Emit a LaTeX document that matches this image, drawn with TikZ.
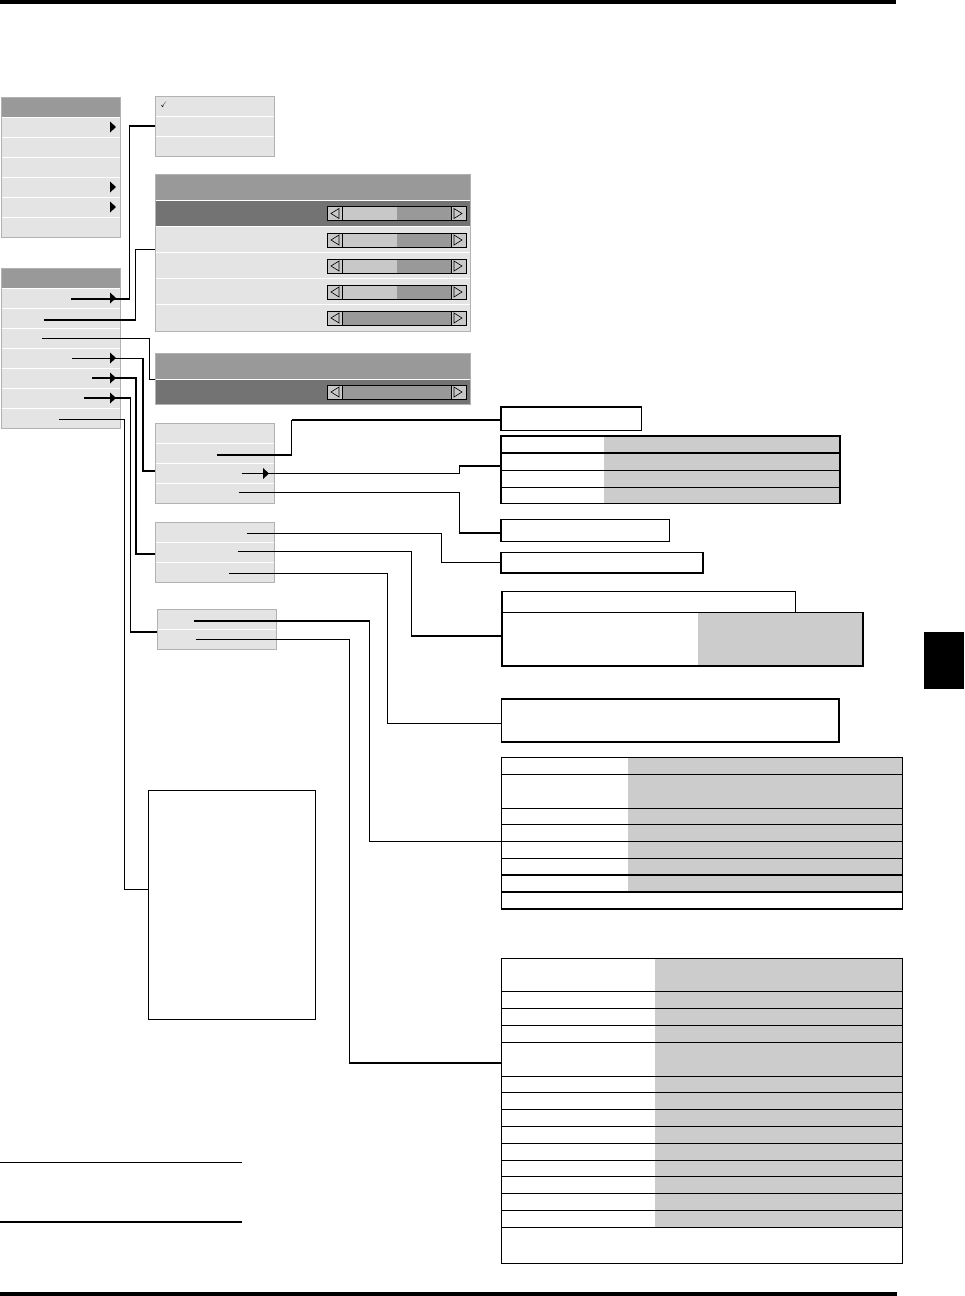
\documentclass[tikz,border=0pt]{standalone}
\usepackage{amsmath, amssymb}
\usepackage{xcolor}
\usepackage{tikz}
\definecolor{menufill}{RGB}{228,228,228}
\definecolor{menuedge}{RGB}{178,178,178}
\definecolor{headgray}{RGB}{153,153,153}
\definecolor{selgray}{RGB}{115,115,115}
\definecolor{cellgray}{RGB}{204,204,204}
\definecolor{tracklight}{RGB}{200,200,200}

\newcommand{\slidebar}[2]{%
  \fill[tracklight] (327,#1-7) rectangle (466,#1+7);
  \fill[headgray] (#2,#1-7) rectangle (451,#1+7);
  \draw[line width=1pt] (327,#1-7) rectangle (466,#1+7);
  \draw[line width=0.8pt] (342,#1-7) -- (342,#1+7) (451,#1-7) -- (451,#1+7);
  \draw[line width=0.6pt] (339,#1-5) -- (331,#1) -- (339,#1+5) -- cycle;
  \draw[line width=0.6pt] (454,#1-5) -- (462,#1) -- (454,#1+5) -- cycle;
}
\newcommand{\subtri}[2]{\fill (#1,#2-5.5) -- (#1+6,#2) -- (#1,#2+5.5) -- cycle;}

\begin{document}
\begin{tikzpicture}[x=1pt, y=-1pt,
  menupanel/.style={draw=menuedge, fill=menufill, line width=1pt, inner sep=0pt, outer sep=0pt, anchor=north west},
  boxed/.style={draw, line width=1.4pt, inner sep=0pt, outer sep=0pt, anchor=north west},
  link/.style={line width=1.1pt},
  sep/.style={white, line width=1pt},
  rowline/.style={line width=1.2pt}]
  \useasboundingbox (0,0) rectangle (964,1296);
  \fill (0,0) rectangle (896,4);
  \fill (0,1292) rectangle (897,1296);
  \fill (924,632) rectangle (964,689);

  % left menus
  \node[menupanel, minimum width=119pt, minimum height=140pt] (topmenu) at (1.5,97) {};
  \fill[headgray] (2,97.5) rectangle (120,117);
  \foreach \y in {117,137,...,217} \draw[sep] (2,\y) -- (120,\y);
  \foreach \y in {127,187,207} {\subtri{110}{\y}}

  \node[menupanel, minimum width=119pt, minimum height=160pt] (adjmenu) at (1.5,268) {};
  \fill[headgray] (2,268.5) rectangle (120,288);
  \foreach \y in {288,308,...,408} \draw[sep] (2,\y) -- (120,\y);
  \foreach \y in {298,358,378,398} {\subtri{110}{\y}}

  % submenus
  \node[menupanel, minimum width=119.5pt, minimum height=60pt] (srcmenu) at (155,96) {};
  \foreach \y in {116,136} \draw[sep] (155.5,\y) -- (274,\y);
  \node (tick) at (164,105) {\footnotesize$\boldsymbol{\checkmark}$};

  \node[menupanel, minimum width=315.5pt, minimum height=157pt] (picmenu) at (155,174) {};
  \fill[headgray] (155.5,174.5) rectangle (470,200);
  \fill[selgray] (155.5,200) rectangle (470,226);
  \foreach \y in {200,226,252,278,304} \draw[sep] (155.5,\y) -- (470,\y);
  \slidebar{213.5}{397}
  \slidebar{240}{397}
  \slidebar{266}{397}
  \slidebar{292}{397}
  \slidebar{318}{342}

  \node[menupanel, minimum width=315.5pt, minimum height=51pt] (lampmenu) at (155,353) {};
  \fill[headgray] (155.5,353.5) rectangle (470,379);
  \fill[selgray] (155.5,379) rectangle (470,403.5);
  \draw[sep] (155.5,379) -- (470,379);
  \slidebar{392}{342}

  \node[menupanel, minimum width=119.5pt, minimum height=80pt] (menuA) at (155,423) {};
  \foreach \y in {443,463,483} \draw[sep] (155.5,\y) -- (274,\y);
  \subtri{263}{473.5}

  \node[menupanel, minimum width=119.5pt, minimum height=60pt] (menuB) at (155,522) {};
  \foreach \y in {542,562} \draw[sep] (155.5,\y) -- (274,\y);

  \node[menupanel, minimum width=119.5pt, minimum height=40pt] (menuC) at (157,609) {};
  \draw[sep] (157.5,629) -- (276,629);

  \node[boxed, minimum width=167pt, minimum height=229pt] (infobox) at (148.5,790.5) {};

  % right hand boxes and tables
  \node[boxed, minimum width=140.5pt, minimum height=23.5pt] (box1) at (501,407) {};

  \fill[cellgray] (604,436) rectangle (840,503.5);
  \node[boxed, minimum width=339pt, minimum height=67.5pt] (tab1) at (501,436) {};
  \foreach \y in {453,470.5,487.5} \draw[rowline] (tab1.west |- 0,\y) -- (tab1.east |- 0,\y);

  \node[boxed, minimum width=168.5pt, minimum height=22pt] (box2) at (501,519.5) {};
  \node[boxed, minimum width=202pt, minimum height=20.5pt] (box3) at (501,552.5) {};

  \node[boxed, minimum width=293.5pt, minimum height=21pt] (box4top) at (502,591.5) {};
  \fill[cellgray] (698,612.5) rectangle (863,666);
  \node[boxed, minimum width=361pt, minimum height=53.5pt] (box4) at (502,612.5) {};

  \node[boxed, minimum width=337.5pt, minimum height=43pt] (box5) at (501.5,699) {};
  \draw[line width=2.6pt] (box5.south west) -- (box5.south east);

  \fill[cellgray] (627.5,757.5) rectangle (902.5,892);
  \node[boxed, minimum width=401pt, minimum height=151.5pt] (tab2) at (501.5,757.5) {};
  \foreach \y in {774.5,808.5,824.5,841.5,858.5,875,892}
    \draw[rowline] (tab2.west |- 0,\y) -- (tab2.east |- 0,\y);

  \fill[cellgray] (655,958.5) rectangle (902.5,1227.5);
  \node[boxed, minimum width=401pt, minimum height=305pt] (tab3) at (501.5,958.5) {};
  \foreach \y in {991.5,1008.5,1025.5,1042.5,1076.5,1092.5,1109.5,1126.5,1143.5,1160.5,1176.5,1193.5,1210.5,1227.5}
    \draw[rowline] (tab3.west |- 0,\y) -- (tab3.east |- 0,\y);

  \draw[line width=1.3pt] (0,1162.5) -- (242,1162.5);
  \draw[line width=1.3pt] (0,1222) -- (242,1222);

  % connectors
  \coordinate (r1) at (71,299);
  \coordinate (r2) at (44,320);
  \coordinate (r3) at (42,338.5);
  \coordinate (r4) at (72,358.5);
  \coordinate (r5) at (92,378);
  \coordinate (r6) at (84,398);
  \coordinate (r7) at (59,419.5);
  \coordinate (a2) at (216.5,455);
  \coordinate (a3) at (241.5,473.5);
  \coordinate (a4) at (238.5,492.5);
  \coordinate (b1) at (246.5,533.5);
  \coordinate (b2) at (237.5,551.5);
  \coordinate (b3) at (229,573.5);
  \coordinate (c1) at (194,621);
  \coordinate (c2) at (196,639.5);

  \draw[link] (r1) -- (129.5,299) |- (srcmenu.west);
  \draw[link] (r2) -- (135.5,320) |- (picmenu.west |- 0,249.5);
  \draw[link] (r3) -- (149.5,338.5) |- (lampmenu.west |- 0,379.5);
  \draw[link] (r4) -- (143,358.5) |- (menuA.west |- 0,471);
  \draw[link] (r5) -- (136,378) |- (menuB.west |- 0,554);
  \draw[link] (r6) -- (130.5,398) |- (menuC.west |- 0,632);
  \draw[link] (r7) -- (124.5,419.5) |- (infobox.west |- 0,889.5);
  \draw[link, line width=1.8pt] (a2) -- (291.5,455) -- (291.5,420);
  \draw[link] (291.5,420) -- (box1.west |- 0,420);
  \draw[link] (a3) -- (459.5,473.5) |- (tab1.west |- 0,466);
  \draw[link] (a4) -- (459.5,492.5) |- (box2.west |- 0,533);
  \draw[link] (b1) -- (441.5,533.5) |- (box3.west |- 0,562.5);
  \draw[link] (b2) -- (411.5,551.5) |- (box4.west |- 0,636);
  \draw[link] (b3) -- (387.5,573.5) |- (box5.west |- 0,723.5);
  \draw[link] (c1) -- (369.5,621) |- (tab2.west |- 0,841.5);
  \draw[link] (c2) -- (349.5,639.5) |- (tab3.west |- 0,1063);
\end{tikzpicture}
\end{document}
